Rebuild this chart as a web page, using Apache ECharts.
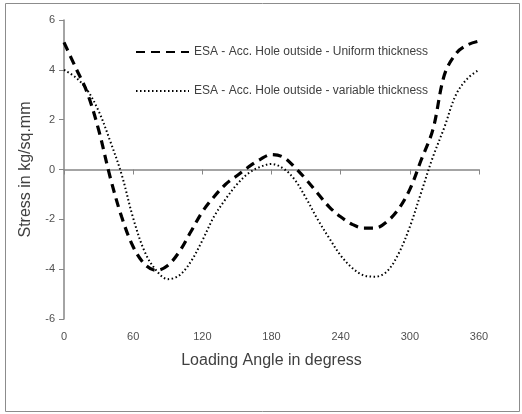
<!DOCTYPE html>
<html><head><meta charset="utf-8">
<script src="https://cdn.jsdelivr.net/npm/echarts@6/dist/echarts.min.js"></script>
<style>html,body{margin:0;padding:0;background:#fff}#c{width:522px;height:414px}</style>
</head><body><div id="c"></div>
<script>
const angles = [0,10,20,30,40,50,60,70,80,90,100,110,120,130,140,150,160,170,180,190,200,210,220,230,240,250,260,270,280,290,300,310,320,330,340,350,360];
const uniform = [5.1,4.1,3.1,1.6,-0.3,-1.9,-3.1,-3.8,-4.05,-3.85,-3.3,-2.5,-1.7,-1.1,-0.6,-0.25,0.1,0.4,0.6,0.5,0.1,-0.4,-0.95,-1.5,-1.9,-2.2,-2.35,-2.35,-2.1,-1.6,-0.8,0.4,1.6,3.8,4.65,5.0,5.15];
const variable = [4.0,3.7,3.2,2.35,1.15,-0.2,-1.95,-3.3,-4.05,-4.4,-4.25,-3.7,-2.85,-1.9,-1.2,-0.6,-0.15,0.1,0.22,0.05,-0.4,-1.15,-2.0,-2.75,-3.45,-3.95,-4.25,-4.3,-4.1,-3.4,-2.3,-0.9,0.5,1.7,3.0,3.65,4.0];
const seriesNames = ['ESA - Acc. Hole outside - Uniform thickness','ESA - Acc. Hole outside - variable thickness'];
const xTicks = {min:0,max:360,interval:60};
const yTicks = {min:-6,max:6,interval:2};

const font = 'Liberation Sans, Arial, sans-serif';
const axisGray = '#868686';
const chart = echarts.init(document.getElementById('c'), null, {renderer:'canvas'});
chart.setOption({
  animation:false,
  backgroundColor:'#fff',
  graphic:[{type:'rect',shape:{x:5.5,y:3.5,width:514,height:408},style:{fill:'none',stroke:'#8c8c8c',lineWidth:1}}],
  grid:{left:64,right:43,top:20,bottom:95},
  legend:{
    orient:'vertical',left:130,top:41,itemWidth:53,itemHeight:8,itemGap:27,
    itemStyle:{opacity:0},
    textStyle:{fontFamily:font,fontSize:12,color:'#404040'},
    data:seriesNames
  },
  xAxis:[{
    type:'value',min:xTicks.min,max:xTicks.max,interval:xTicks.interval,position:'bottom',
    axisLine:{show:false,onZero:false},axisTick:{show:false},splitLine:{show:false},
    axisLabel:{margin:12,fontFamily:font,fontSize:11,color:'#505050'},
    name:'Loading Angle in degress',nameLocation:'middle',nameGap:34,
    nameTextStyle:{fontFamily:font,fontSize:16,color:'#404040'}
  },{
    type:'value',min:xTicks.min,max:xTicks.max,interval:xTicks.interval,position:'top',
    axisLine:{show:true,onZero:true,onZeroAxisIndex:0,lineStyle:{color:axisGray,width:1.5}},
    axisTick:{show:true,inside:true,length:5,lineStyle:{color:axisGray}},
    axisLabel:{show:false},splitLine:{show:false}
  }],
  yAxis:{
    type:'value',min:yTicks.min,max:yTicks.max,interval:yTicks.interval,
    axisLine:{show:true,onZero:false,lineStyle:{color:axisGray,width:1.5}},
    axisTick:{show:true,length:5,lineStyle:{color:axisGray}},
    splitLine:{show:false},
    axisLabel:{margin:9,fontFamily:font,fontSize:11,color:'#505050'},
    name:'Stress in kg/sq.mm',nameLocation:'middle',nameGap:30,
    nameTextStyle:{fontFamily:font,fontSize:16,color:'#404040'}
  },
  series:[{
    name:seriesNames[0],type:'line',smooth:0.35,symbol:'none',xAxisIndex:0,
    data:angles.map((a,i)=>[a,uniform[i]]),
    lineStyle:{color:'#000',width:3.2,type:[9,6]},itemStyle:{color:'#000'}
  },{
    name:seriesNames[1],type:'line',smooth:0.35,symbol:'none',xAxisIndex:0,
    data:angles.map((a,i)=>[a,variable[i]]),
    lineStyle:{color:'#000',width:2,type:[1.5,2.5]},itemStyle:{color:'#000'}
  }]
});
</script></body></html>
